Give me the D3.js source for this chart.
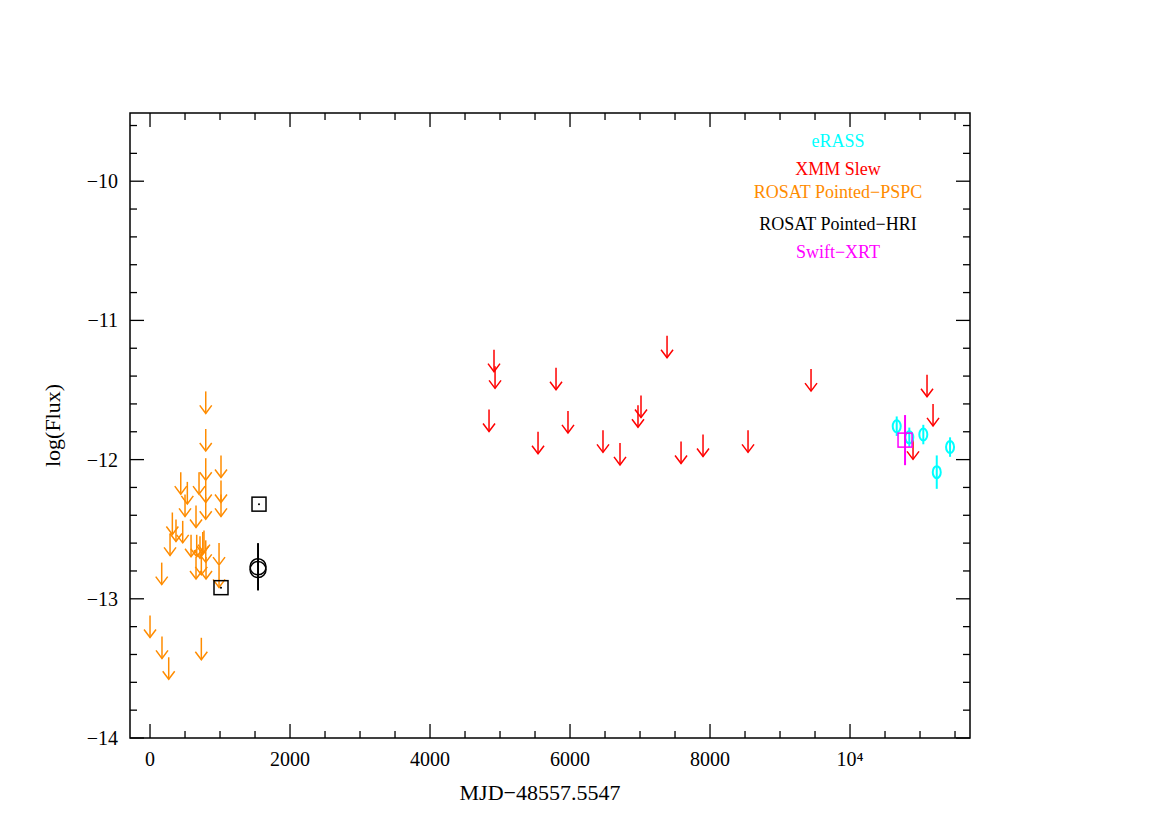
<!DOCTYPE html><html><head><meta charset="utf-8"><script src="https://d3js.org/d3.v7.min.js"></script>
<style>body{margin:0;background:#fff}text{font-family:"Liberation Serif","DejaVu Serif",serif}</style></head><body><svg id="c" width="1170" height="827"></svg>
<script>
const pspcX=[796,796,796,1014,439,533,700,500,796,1014,1014,657,796,319,371,467,286,586,667,753,771,714,796,986,167,657,733,800,986,0,171,267,733];
const pspcY=[-11.51,-11.78,-11.99,-11.97,-12.09,-12.16,-12.09,-12.25,-12.15,-12.15,-12.25,-12.33,-12.27,-12.38,-12.43,-12.44,-12.53,-12.54,-12.54,-12.52,-12.51,-12.55,-12.58,-12.60,-12.74,-12.70,-12.67,-12.70,-12.76,-13.12,-13.27,-13.42,-13.28];
const slewX=[4843,4914,4929,5543,5800,5971,6471,6714,6971,7014,7386,7586,7900,8543,9443,11100,11186,10900];
const slewY=[-11.64,-11.21,-11.33,-11.80,-11.34,-11.65,-11.79,-11.88,-11.61,-11.54,-11.11,-11.87,-11.82,-11.79,-11.35,-11.39,-11.60,-11.84];
const hriSqX=[1014,1557], hriSqY=[-12.92,-12.32];
const hriCX=[1543,1543], hriCY=[-12.77,-12.79], hriCErr=[0.17,0];
const erX=[10667,10847,11047,11239,11429], erY=[-11.76,-11.84,-11.82,-12.09,-11.91], erErr=[0.07,0.07,0.07,0.12,0.07];
const swX=[10786], swY=[-11.86], swErr=[0.18];
const xTicks=[0,2000,4000,6000,8000,10000], xTickLabels=["0","2000","4000","6000","8000","10⁴"];
const yTicks=[-14,-13,-12,-11,-10], yTickLabels=["−14","−13","−12","−11","−10"];
const legend=[["eRASS","#00ffff"],["XMM Slew","#ff0000"],["ROSAT Pointed−PSPC","#ff8c00"],["ROSAT Pointed−HRI","#000"],["Swift−XRT","#ff00ff"]];

const svg=d3.select("#c");
const L=130,R=970,T=113,B=738;
const x=d3.scaleLinear().domain([-286,11714]).range([L,R]);
const y=d3.scaleLinear().domain([-14,-9.51]).range([B,T]);
const g=svg.append("g");
// frame
g.append("rect").attr("x",L).attr("y",T).attr("width",R-L).attr("height",B-T).attr("fill","none").attr("stroke","#000").attr("stroke-width",1.5);
const xMinor=d3.range(0,11701,500), yMinor=d3.range(-14,-9.5,0.2);
function tk(x1,y1,x2,y2){g.append("line").attr("x1",x1).attr("y1",y1).attr("x2",x2).attr("y2",y2).attr("stroke","#000").attr("stroke-width",1.3);}
xMinor.forEach(v=>{const big=v%2000===0;const l=big?14:7;tk(x(v),B,x(v),B-l);tk(x(v),T,x(v),T+l);});
yMinor.forEach(v=>{const big=Math.abs(v-Math.round(v))<1e-6;const l=big?14:7;tk(L,y(v),L+l,y(v));tk(R,y(v),R-l,y(v));});
xTicks.forEach((v,i)=>g.append("text").attr("x",x(v)).attr("y",B+28).attr("text-anchor","middle").attr("font-size",20).text(xTickLabels[i]));
yTicks.forEach((v,i)=>g.append("text").attr("x",L-12).attr("y",y(v)+7).attr("text-anchor","end").attr("font-size",20).text(yTickLabels[i]));
g.append("text").attr("x",(L+R)/2-10).attr("y",B+62).attr("text-anchor","middle").attr("font-size",22).text("MJD−48557.5547");
g.append("text").attr("transform",`translate(60,${(T+B)/2}) rotate(-90)`).attr("text-anchor","middle").attr("font-size",22).text("log(Flux)");
// upper limit arrows
function arrows(xs,ys,col){xs.forEach((v,i)=>{const px=x(v),py=y(ys[i]),len=22;
 g.append("line").attr("x1",px).attr("y1",py).attr("x2",px).attr("y2",py+len).attr("stroke",col).attr("stroke-width",1.5);
 g.append("path").attr("d",`M${px-6},${py+len-8}L${px},${py+len}L${px+6},${py+len-8}`).attr("fill","none").attr("stroke",col).attr("stroke-width",1.5);});}
arrows(pspcX,pspcY,"#ff8c00");
arrows(slewX,slewY,"#ff0000");
// HRI
hriSqX.forEach((v,i)=>{g.append("rect").attr("x",x(v)-7).attr("y",y(hriSqY[i])-7).attr("width",14).attr("height",14).attr("fill","none").attr("stroke","#000").attr("stroke-width",1.5);
 g.append("circle").attr("cx",x(v)).attr("cy",y(hriSqY[i])).attr("r",1).attr("fill","#000");});
hriCX.forEach((v,i)=>{g.append("circle").attr("cx",x(v)).attr("cy",y(hriCY[i])).attr("r",8).attr("fill","none").attr("stroke","#000").attr("stroke-width",1.5);
 if(hriCErr[i]>0)g.append("line").attr("x1",x(v)).attr("x2",x(v)).attr("y1",y(hriCY[i]-hriCErr[i])).attr("y2",y(hriCY[i]+hriCErr[i])).attr("stroke","#000").attr("stroke-width",2);});
// eRASS
erX.forEach((v,i)=>{g.append("line").attr("x1",x(v)).attr("x2",x(v)).attr("y1",y(erY[i]-erErr[i])).attr("y2",y(erY[i]+erErr[i])).attr("stroke","#00ffff").attr("stroke-width",2);
 g.append("ellipse").attr("cx",x(v)).attr("cy",y(erY[i])).attr("rx",4).attr("ry",6).attr("fill","none").attr("stroke","#00ffff").attr("stroke-width",2);});
// Swift
swX.forEach((v,i)=>{g.append("line").attr("x1",x(v)).attr("x2",x(v)).attr("y1",y(swY[i]-swErr[i])).attr("y2",y(swY[i]+swErr[i])).attr("stroke","#ff00ff").attr("stroke-width",2);
 g.append("rect").attr("x",x(v)-7).attr("y",y(swY[i])-7).attr("width",14).attr("height",14).attr("fill","none").attr("stroke","#ff00ff").attr("stroke-width",1.5);});
// legend
const ly=[141,169,192,224,252];
legend.forEach((d,i)=>g.append("text").attr("x",838).attr("y",ly[i]+6).attr("text-anchor","middle").attr("font-size",18).attr("fill",d[1]).text(d[0]));
</script></body></html>
